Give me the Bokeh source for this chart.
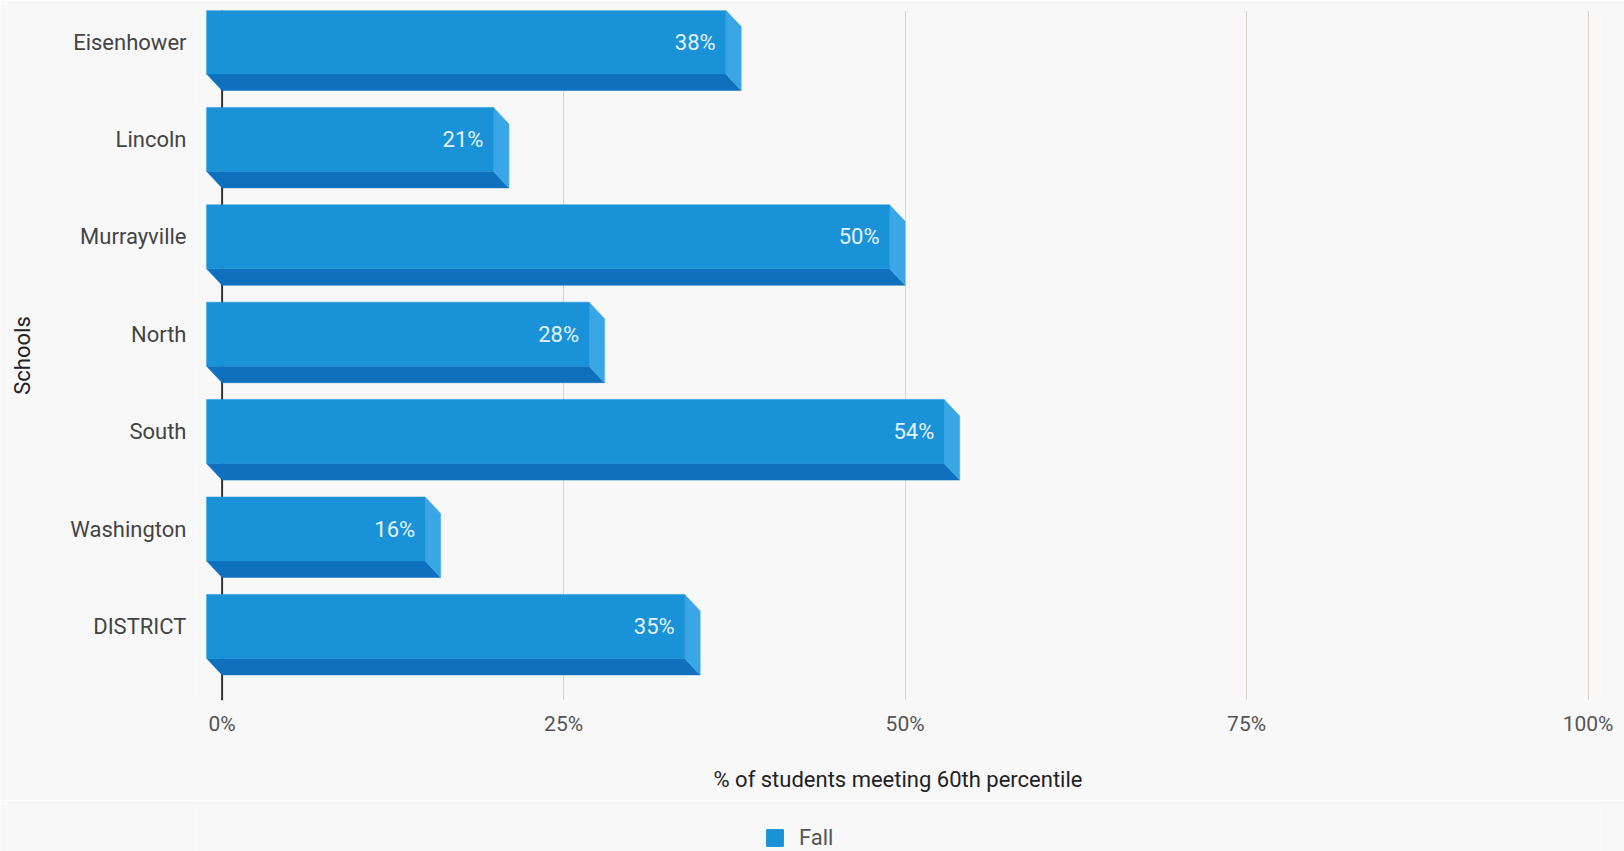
from bokeh.plotting import figure
from bokeh.layouts import column
from bokeh.models import (Range1d, FixedTicker, LinearAxis, Span, Legend, LegendItem,
                          ColumnDataSource, Grid)
from bokeh.core.properties import value
from bokeh.embed import file_html
from bokeh.resources import INLINE

# ---- data ----
schools = ["Eisenhower", "Lincoln", "Murrayville", "North", "South", "Washington", "DISTRICT"]
fall_pct = [38, 21, 50, 28, 54, 16, 35]
x_ticks = [0, 25, 50, 75, 100]
x_tick_labels = ["0%", "25%", "50%", "75%", "100%"]
series_name = "Fall"

# ---- layout constants (pixels) ----
FRAME_LEFT = 195
FRAME_TOP = 10
FRAME_W = 1405
FRAME_H = 690
PX_PER_PCT = 13.66
ZERO_PX = 221.6             # screen x of 0%
CAT_PX = 97.4               # pixels per category
FIRST_BACK_CENTER = 58.0    # screen y of first bar's back-face center
DEPTH_X_PX = 15.5
DEPTH_Y_PX = 16.5
FACE_H_PX = 64.0

x_start = -(ZERO_PX - FRAME_LEFT) / PX_PER_PCT
x_end = x_start + FRAME_W / PX_PER_PCT
y_top = -(FIRST_BACK_CENTER - FRAME_TOP) / CAT_PX
y_bottom = y_top + FRAME_H / CAT_PX

dx = DEPTH_X_PX / PX_PER_PCT
dy = DEPTH_Y_PX / CAT_PX
hh = FACE_H_PX / CAT_PX / 2

BG = "#f8f8f8"
FRONT = "#1a92d7"
BOTTOM = "#0f70bd"
SIDE = "#3aa6e6"

p = figure(frame_width=FRAME_W, frame_height=FRAME_H,
           x_range=Range1d(x_start, x_end),
           y_range=Range1d(y_bottom, y_top),
           output_backend="svg", toolbar_location=None,
           y_axis_location=None, x_axis_location=None,
           min_border_left=FRAME_LEFT, min_border_top=FRAME_TOP,
           min_border_right=24, min_border_bottom=100,
           background_fill_color=BG, border_fill_color=BG)
p.outline_line_color = None
p.center = []  # remove default grids

# front-label range (shifted so category labels align with front faces)
p.extra_y_ranges = {"front": Range1d(y_bottom + dy, y_top + dy)}

# x axis
xaxis = LinearAxis(ticker=FixedTicker(ticks=x_ticks),
                   major_label_overrides={t: l for t, l in zip(x_ticks, x_tick_labels)},
                   axis_label="% of students meeting 60th percentile")
xaxis.axis_line_color = None
xaxis.major_tick_line_color = None
xaxis.minor_tick_line_color = None
xaxis.major_label_standoff = 5
xaxis.major_label_text_font = "Roboto"
xaxis.major_label_text_font_size = "21px"
xaxis.major_label_text_color = "#555555"
xaxis.axis_label_text_font = "Roboto"
xaxis.axis_label_text_font_style = "normal"
xaxis.axis_label_text_font_size = "22px"
xaxis.axis_label_text_color = "#222222"
xaxis.axis_label_standoff = 28
p.add_layout(xaxis, "below")

# y axis
yaxis = LinearAxis(y_range_name="front",
                   ticker=FixedTicker(ticks=list(range(len(schools)))),
                   major_label_overrides={i: s for i, s in enumerate(schools)},
                   axis_label="Schools")
yaxis.axis_line_color = None
yaxis.major_tick_line_color = None
yaxis.minor_tick_line_color = None
yaxis.major_label_standoff = 3
yaxis.major_label_text_font = "Roboto"
yaxis.major_label_text_font_size = "22px"
yaxis.major_label_text_color = "#444444"
yaxis.axis_label_text_font = "Roboto"
yaxis.axis_label_text_font_style = "normal"
yaxis.axis_label_text_font_size = "22px"
yaxis.axis_label_text_color = "#222222"
yaxis.axis_label_standoff = 32
p.add_layout(yaxis, "left")

# grid
xgrid = Grid(dimension=0, ticker=FixedTicker(ticks=x_ticks))
xgrid.grid_line_color = "#dcd6cf"
xgrid.grid_line_width = 1
p.add_layout(xgrid)

# zero axis line
p.add_layout(Span(location=0, dimension="height", line_color="#333333",
                  line_width=2, level="underlay"))

# ---- 3D bars ----
front_xs, front_ys, bot_xs, bot_ys, side_xs, side_ys = [], [], [], [], [], []
for i, v in enumerate(fall_pct):
    ft = i - dy - hh
    fb = i - dy + hh
    front_xs.append([-dx, v - dx, v - dx, -dx])
    front_ys.append([ft, ft, fb, fb])
    bot_xs.append([-dx, v - dx, v, 0])
    bot_ys.append([fb, fb, i + hh, i + hh])
    side_xs.append([v - dx, v, v, v - dx])
    side_ys.append([ft, i - hh, i + hh, fb])

p.patches(bot_xs, bot_ys, fill_color=BOTTOM, line_color=BOTTOM, line_width=0.5)
p.patches(side_xs, side_ys, fill_color=SIDE, line_color=SIDE, line_width=0.5)
p.patches(front_xs, front_ys, fill_color=FRONT, line_color=FRONT, line_width=0.5)

src = ColumnDataSource(dict(
    x=[v - dx for v in fall_pct],
    y=[i - dy for i in range(len(schools))],
    t=[f"{v}%" for v in fall_pct]))
p.text(x="x", y="y", text="t", source=src, x_offset=-10,
       text_align="right", text_baseline="middle",
       text_font=value("Roboto"), text_font_size="22px", text_color="#e6f3fb")

# ---- legend strip (separate small figure below) ----
p2 = figure(width=1624, height=51, x_range=Range1d(0, 1), y_range=Range1d(0, 1),
            output_backend="svg", toolbar_location=None,
            x_axis_location=None, y_axis_location=None, min_border=0,
            background_fill_color=BG, border_fill_color=BG)
p2.outline_line_color = None
p2.center = []
# off-range placeholder so the legend swatch has a renderer to describe
swatch = p2.quad(left=[5], right=[6], bottom=[5], top=[6],
                 fill_color=FRONT, line_color=FRONT)
legend = Legend(items=[LegendItem(label=series_name, renderers=[swatch])],
                location=(569, 1), orientation="horizontal",
                padding=0, margin=0, spacing=0,
                glyph_width=21, glyph_height=21, label_standoff=14,
                border_line_color=None, background_fill_alpha=0,
                label_text_font="Roboto", label_text_font_size="22px",
                label_text_color="#555555")
p2.add_layout(legend)

open("out.html", "w").write(file_html(column(p, p2, spacing=0), INLINE))
